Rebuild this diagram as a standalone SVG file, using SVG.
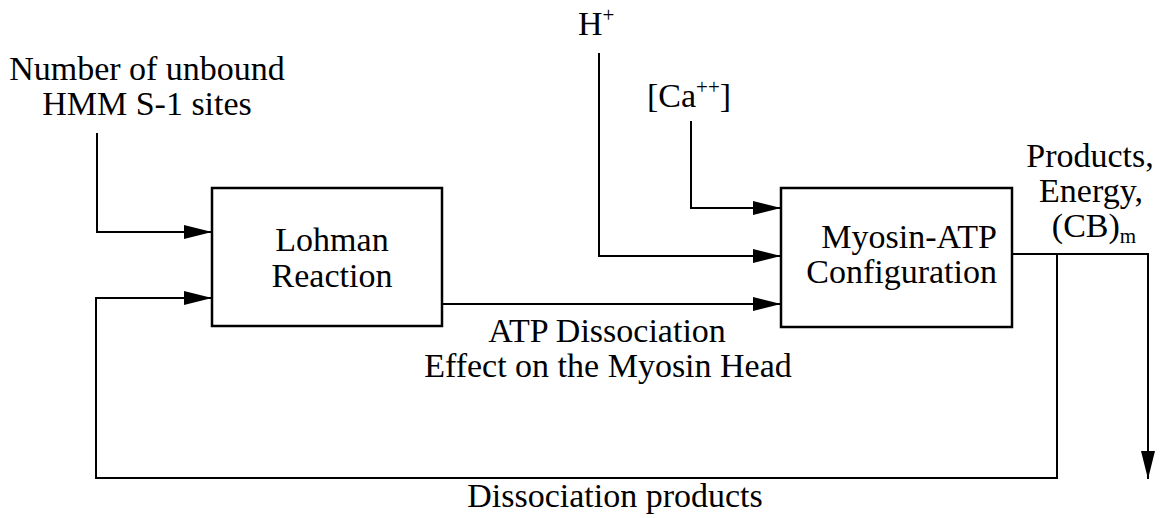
<svg xmlns="http://www.w3.org/2000/svg" width="1164" height="518" viewBox="0 0 1164 518">
<defs>
<marker id="ah" markerUnits="userSpaceOnUse" markerWidth="30" markerHeight="14" refX="28" refY="7" orient="auto">
<path d="M0,0 L28,7 L0,14 Z" fill="#000"/>
</marker>
</defs>
<style>
text{font-size:34px;fill:#000}
.box{fill:#fff;stroke:#000;stroke-width:2.5}
.c{fill:none;stroke:#000;stroke-width:2}
.sup{font-size:21px}
</style>
<rect width="1164" height="518" fill="#fff"/>
<g id="connectors">
<path class="c" d="M97,133 V232 H212" marker-end="url(#ah)"/>
<path class="c" d="M599,53 V256 H781" marker-end="url(#ah)"/>
<path class="c" d="M691,121 V208 H781" marker-end="url(#ah)"/>
<path class="c" d="M442,304 H781" marker-end="url(#ah)"/>
<path class="c" d="M1012,254 H1148 V479" marker-end="url(#ah)"/>
<path class="c" d="M1057,254 V478 H96 V298 H212" marker-end="url(#ah)"/>
</g>
<g id="input-sites">
<text font-family="Liberation Serif" x="147" y="80" text-anchor="middle">Number of unbound</text>
<text font-family="Liberation Serif" x="147" y="115" text-anchor="middle">HMM S-1 sites</text>
</g>
<g id="input-h">
<text font-family="Liberation Serif" x="578" y="35">H<tspan class="sup" dy="-13">+</tspan></text>
</g>
<g id="input-ca">
<text font-family="Liberation Serif" x="647" y="107">[Ca<tspan class="sup" dy="-13">++</tspan><tspan dy="13">]</tspan></text>
</g>
<g id="lohman">
<rect class="box" x="212" y="188" width="230" height="138"/>
<text font-family="Liberation Serif" x="332" y="251" text-anchor="middle">Lohman</text>
<text font-family="Liberation Serif" x="332" y="287" text-anchor="middle">Reaction</text>
</g>
<g id="myosin">
<rect class="box" x="781" y="188" width="231" height="139"/>
<text font-family="Liberation Serif" x="997" y="248" text-anchor="end">Myosin-ATP</text>
<text font-family="Liberation Serif" x="997" y="283" text-anchor="end">Configuration</text>
</g>
<g id="labels">
<text font-family="Liberation Serif" x="607" y="342" text-anchor="middle">ATP Dissociation</text>
<text font-family="Liberation Serif" x="608" y="377" text-anchor="middle">Effect on the Myosin Head</text>
<text font-family="Liberation Serif" x="615" y="507" text-anchor="middle">Dissociation products</text>
<text font-family="Liberation Serif" x="1090" y="167" text-anchor="middle">Products,</text>
<text font-family="Liberation Serif" x="1091" y="202" text-anchor="middle">Energy,</text>
<text font-family="Liberation Serif" x="1094" y="237" text-anchor="middle">(CB)<tspan class="sup" dy="6">m</tspan></text>
</g>
</svg>
